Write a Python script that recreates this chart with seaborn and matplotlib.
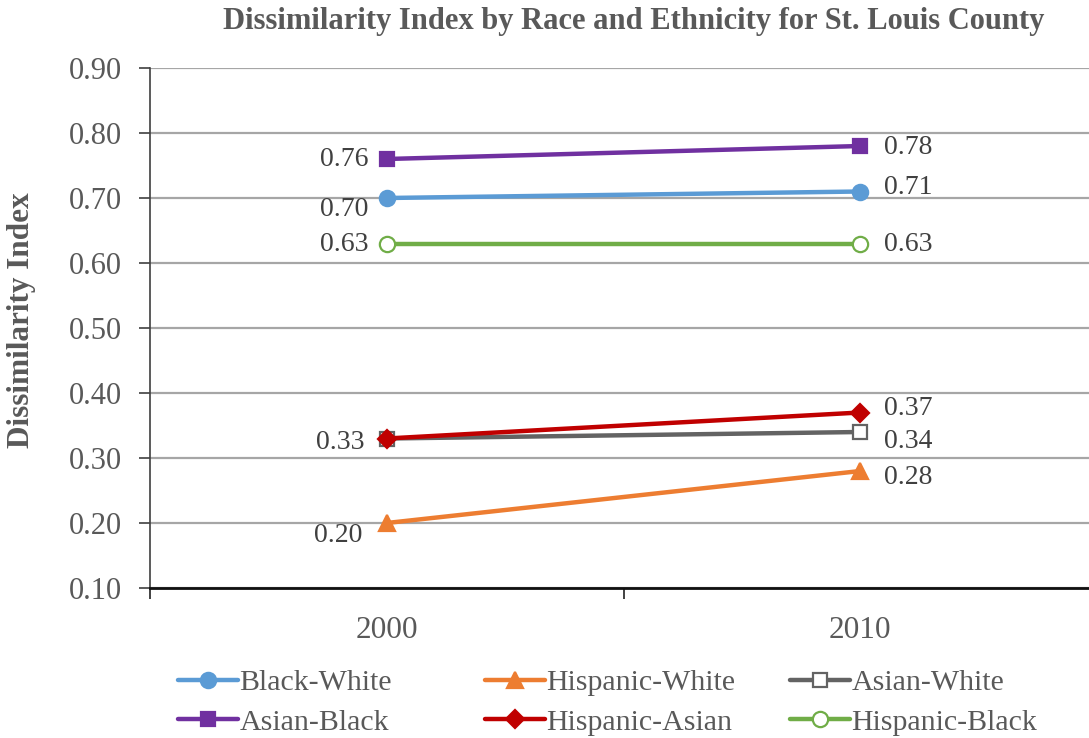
import matplotlib
matplotlib.use('Agg')
import matplotlib.pyplot as plt
import seaborn as sns
import pandas as pd
import numpy as np

# ---- data ----
years = ['2000', '2010']
series_names = ['Black-White', 'Hispanic-White', 'Asian-White',
                'Asian-Black', 'Hispanic-Asian', 'Hispanic-Black']
black_white = [0.70, 0.71]
hispanic_white = [0.20, 0.28]
asian_white = [0.33, 0.34]
asian_black = [0.76, 0.78]
hispanic_asian = [0.33, 0.37]
hispanic_black = [0.63, 0.63]
values = [black_white, hispanic_white, asian_white,
          asian_black, hispanic_asian, hispanic_black]
y_ticks = [0.10, 0.20, 0.30, 0.40, 0.50, 0.60, 0.70, 0.80, 0.90]

# ---- styles ----
colors = ['#5B9BD5', '#ED7D31', '#636363', '#7030A0', '#C00000', '#70AD47']
markers = ['o', '^', 's', 's', 'D', 'o']
facecolors = [None, None, 'white', None, None, 'white']
msizes = [11, 11, 10, 10, 9, 11]
# label offsets in pixels (dx, dy) for 2000 and 2010
offsets = [[(-18, -12), (24, 4)],
           [(-24, -12), (24, -7)],
           [(-22, -4), (24, -10)],
           [(-18, -1), (24, -1)],
           [(-22, -4), (24, 4)],
           [(-18, -1), (24, -1)]]

rows = []
for name, vals in zip(series_names, values):
    for i, (yr, v) in enumerate(zip(years, vals)):
        rows.append({'series': name, 'pos': i, 'year': yr, 'value': v})
df = pd.DataFrame(rows)

sns.set_theme(style='white')
plt.rcParams['font.family'] = ['Liberation Serif']

fig = plt.figure(figsize=(10.89, 7.38), dpi=100)
ax = fig.add_axes([150/1089, 1-588/738, (1097-150)/1089, (588-68)/738])

gray_txt = '#595959'
label_font = 'Liberation Serif'

labeled = set()
for k, name in enumerate(series_names):
    sub = df[df['series'] == name]
    mfc = facecolors[k] if facecolors[k] else colors[k]
    sns.lineplot(data=sub, x='pos', y='value', ax=ax, color=colors[k],
                 lw=3.2, marker=markers[k], markersize=msizes[k],
                 markerfacecolor=mfc, markeredgecolor=colors[k],
                 markeredgewidth=1.6, label=name, zorder=3 + k,
                 legend=False)
    for i, v in enumerate(values[k]):
        if (i, v) in labeled:
            continue
        labeled.add((i, v))
        dx, dy = offsets[k][i]
        ha = 'right' if dx < 0 else 'left'
        ax.annotate(f'{v:.2f}', (i, v), xytext=(dx * 0.72, dy * 0.72),
                    textcoords='offset points', ha=ha, va='center',
                    fontsize=20, color='#404040', family=label_font,
                    zorder=10)

ax.set_xlim(-0.5, 1.5)
ax.set_ylim(0.10, 0.90)
ax.set_yticks(y_ticks)
ax.set_yticklabels([f'{t:.2f}' for t in y_ticks])
ax.yaxis.grid(True, color='#A6A6A6', lw=1.6)
ax.set_axisbelow(True)

ax.set_xticks([-0.5, 0.5, 1.5])
ax.set_xticklabels(['', '', ''])
ax.set_xticks([0, 1], minor=True)
ax.set_xticklabels(years, minor=True)
ax.tick_params(axis='x', which='major', direction='out', length=8, width=1.2,
               color='#222222', bottom=True)
ax.tick_params(axis='x', which='minor', length=0, pad=20, labelsize=22.5,
               labelcolor=gray_txt)
ax.tick_params(axis='y', direction='out', length=8, width=1.2,
               color='#404040', left=True, pad=12, labelsize=22,
               labelcolor=gray_txt)

for s in ['top', 'right']:
    ax.spines[s].set_visible(False)
ax.spines['left'].set_color('#404040')
ax.spines['left'].set_linewidth(1.2)
ax.spines['bottom'].set_color('#111111')
ax.spines['bottom'].set_linewidth(2.0)
ax.set_xlabel('')
ax.set_ylabel('')

fig.text(22/1089, 1-320/738, 'Dissimilarity Index', rotation=90,
         ha='center', va='center', fontsize=22.5, fontweight='bold',
         color=gray_txt, family='Liberation Serif')
fig.text(634/1089, 1-22/738,
         'Dissimilarity Index by Race and Ethnicity for St. Louis County',
         ha='center', va='center', fontsize=22, fontweight='bold',
         color=gray_txt, family='Liberation Serif')

# legends: three columns, two rows each
handles, labels = ax.get_legend_handles_labels()
hmap = dict(zip(labels, handles))
col_groups = [['Black-White', 'Asian-Black'],
              ['Hispanic-White', 'Hispanic-Asian'],
              ['Asian-White', 'Hispanic-Black']]
col_x = [178, 485, 790]
for grp, cx in zip(col_groups, col_x):
    fig.legend([hmap[g] for g in grp], grp, loc='center left',
               bbox_to_anchor=(cx/1089, 1-702.5/738), frameon=False,
               borderpad=0, borderaxespad=0, handlelength=2.0,
               handletextpad=0.05, labelspacing=0.42,
               prop={'family': label_font, 'size': 21.5},
               labelcolor=gray_txt)

fig.savefig('out.png', dpi=100)
